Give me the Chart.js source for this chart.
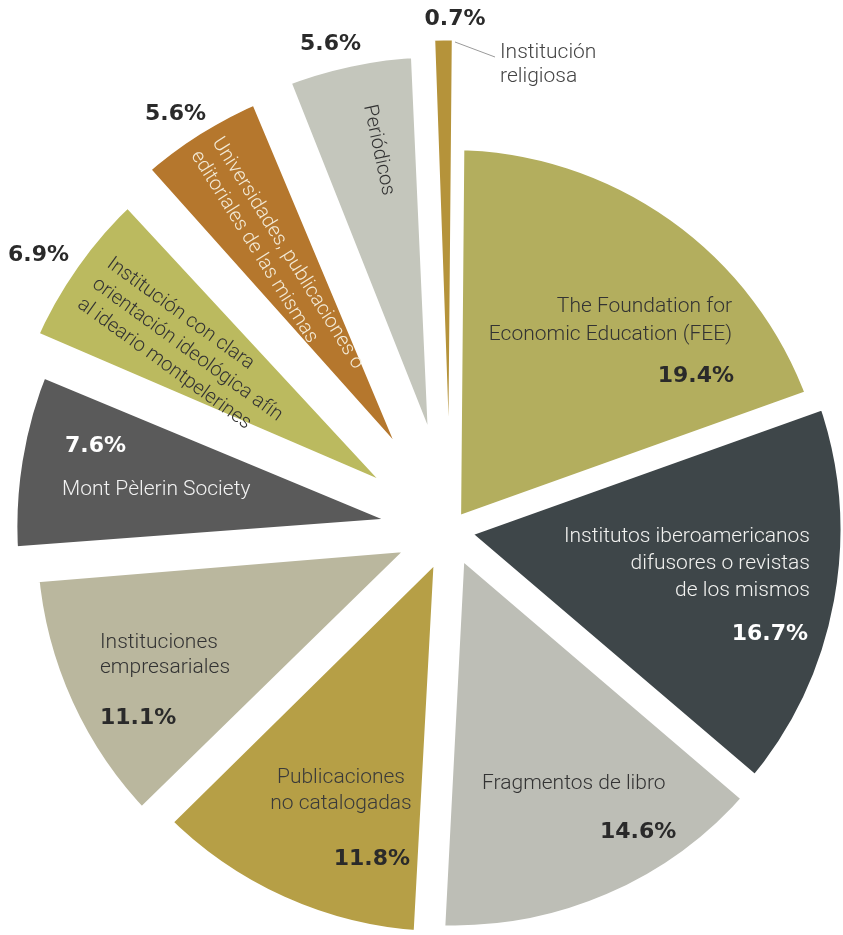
<!DOCTYPE html>
<html lang="es">
<head>
<meta charset="utf-8">
<script src="https://cdn.jsdelivr.net/npm/chart.js@4.4.1/dist/chart.umd.min.js"></script>
<style>
  html, body { margin: 0; background: #fff; }
  .pie-container { width: 843px; height: 935px; }
</style>
</head>
<body>
<div class="pie-container"><canvas id="pie"></canvas></div>
<script>
// categories, clockwise from 12 o'clock
const categoryLines = [
  ['The Foundation for', 'Economic Education (FEE)'],
  ['Institutos iberoamericanos', 'difusores o revistas', 'de los mismos'],
  ['Fragmentos de libro'],
  ['Publicaciones', 'no catalogadas'],
  ['Instituciones', 'empresariales'],
  ['Mont Pèlerin Society'],
  ['Institución con clara', 'orientación ideológica afín', 'al ideario montpelerines'],
  ['Universidades, publicaciones o', 'editoriales de las mismas'],
  ['Periódicos'],
  ['Institución', 'religiosa'],
];
const categories = categoryLines.map(lines => lines.join(' '));
const shares = [19.4, 16.7, 14.6, 11.8, 11.1, 7.6, 6.9, 5.6, 5.6, 0.7];
const shareLabels = shares.map(v => v.toFixed(1) + '%');

// styling per slice
const sliceColors = ['#b3ae5e', '#3e4649', '#bdbeb6', '#b69f46', '#bab79e',
                     '#5a5a5a', '#bbba5f', '#b5772d', '#c4c6bc', '#b5933a'];
const sliceBorder = [22, 22, 22, 22, 22, 22, 22, 22, 22, 5];
const sliceExplode = [0, 3, 11, 10, 21, 22, 37, 41, 41, 0];
const sliceRadius = [391, 398, 394, 400, 397, 410, 408, 411, 417, 492];

// text placement, offsets from the pie centre
const DARK = '#333';
const labelLayout = [
  { dx: 282, dy: -218, align: 'right', gap: 28, color: DARK, pct: { dx: 284, dy: -148, align: 'right', color: '#2a2a2a' } },
  { dx: 360, dy: 12, align: 'right', gap: 27, color: '#f2f2f0', pct: { dx: 358, dy: 110, align: 'right', color: '#fff' } },
  { dx: 32, dy: 259, align: 'left', gap: 26, color: DARK, pct: { dx: 150, dy: 308, align: 'left', color: '#2a2a2a' } },
  { dx: -109, dy: 253, align: 'center', gap: 26, color: '#3a3a3a', pct: { dx: -40, dy: 335, align: 'right', color: '#2a2a2a' } },
  { dx: -350, dy: 118, align: 'left', gap: 25, color: DARK, pct: { dx: -350, dy: 194, align: 'left', color: '#2a2a2a' } },
  { dx: -388, dy: -35, align: 'left', gap: 25, color: '#f2f2f2', pct: { dx: -385, dy: -78, align: 'left', color: '#fff' } },
  { dx: -344, dy: -264, align: 'left', gap: 25, rot: 36, size: 20, color: DARK, pct: { dx: -442, dy: -269, align: 'left', color: '#2a2a2a' } },
  { dx: -238, dy: -388, align: 'left', gap: 25, rot: 58, size: 20, color: '#f3ead6', pct: { dx: -305, dy: -410, align: 'left', color: '#2a2a2a' } },
  { dx: -86, dy: -424, align: 'left', gap: 25, rot: 78, size: 20, color: DARK, pct: { dx: -150, dy: -480, align: 'left', color: '#2a2a2a' } },
  { dx: 50, dy: -472, align: 'left', gap: 24, color: '#444', pct: { dx: 5, dy: -505, align: 'center', color: '#2a2a2a' },
    leader: [5, -488, 45, -473] },
];

const sliceRadiusPlugin = {
  id: 'sliceRadius',
  afterDatasetsUpdate(chart) {
    chart.getDatasetMeta(0).data.forEach((arc, i) => {
      arc.outerRadius = sliceRadius[i];
    });
  }
};

const sliceLabelPlugin = {
  id: 'sliceLabels',
  afterDatasetsDraw(chart) {
    const ctx = chart.ctx;
    const arcs = chart.getDatasetMeta(0).data;
    const cx = arcs[0].x, cy = arcs[0].y;
    ctx.save();
    ctx.textBaseline = 'alphabetic';
    labelLayout.forEach((lay, i) => {
      if (lay.leader) {
        const [x1, y1, x2, y2] = lay.leader;
        ctx.strokeStyle = '#9a9a9a';
        ctx.lineWidth = 1;
        ctx.beginPath();
        ctx.moveTo(cx + x1, cy + y1);
        ctx.lineTo(cx + x2, cy + y2);
        ctx.stroke();
      }
      ctx.save();
      ctx.translate(cx + lay.dx, cy + lay.dy);
      if (lay.rot) ctx.rotate(lay.rot * Math.PI / 180);
      ctx.font = `300 ${lay.size || 21}px Roboto, "Liberation Sans", sans-serif`;
      ctx.fillStyle = lay.color;
      ctx.textAlign = lay.align;
      categoryLines[i].forEach((line, j) => ctx.fillText(line, 0, j * lay.gap));
      ctx.restore();

      const p = lay.pct;
      ctx.font = 'bold 22px "DejaVu Sans", sans-serif';
      ctx.fillStyle = p.color;
      ctx.textAlign = p.align;
      ctx.fillText(shareLabels[i], cx + p.dx, cy + p.dy);
    });
    ctx.restore();
  }
};

new Chart(document.getElementById('pie'), {
  type: 'pie',
  data: {
    labels: categories,
    datasets: [{
      data: shares,
      backgroundColor: sliceColors,
      borderColor: '#fff',
      borderWidth: sliceBorder,
      offset: sliceExplode.map(t => t * 4),
      clip: false,
    }]
  },
  options: {
    responsive: true,
    maintainAspectRatio: false,
    animation: false,
    events: [],
    rotation: 0.5,
    radius: 400,
    layout: { padding: { left: 57, top: 125, right: 0, bottom: 0 } },
    plugins: {
      legend: { display: false },
      tooltip: { enabled: false },
    },
  },
  plugins: [sliceRadiusPlugin, sliceLabelPlugin],
});
</script>
</body>
</html>
